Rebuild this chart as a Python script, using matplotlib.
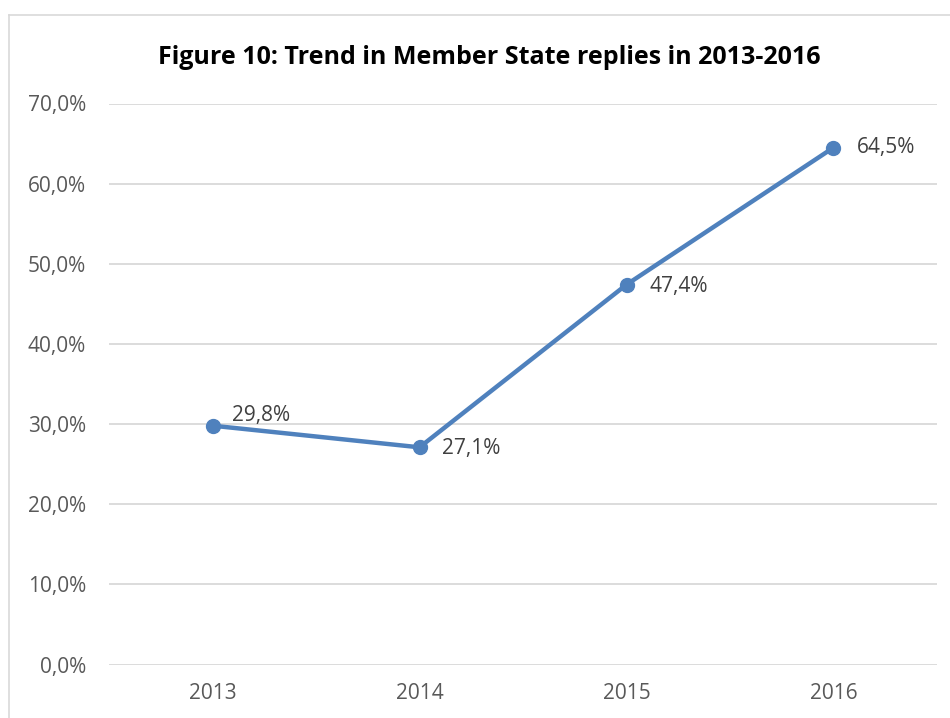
import matplotlib
matplotlib.use("Agg")
import matplotlib.pyplot as plt
from matplotlib.lines import Line2D

years = ["2013", "2014", "2015", "2016"]
values = [29.8, 27.1, 47.4, 64.5]
labels = ["29,8%", "27,1%", "47,4%", "64,5%"]
label_offsets = [(14, 7), (16.5, -1), (16.5, -1), (16.5, 0)]
yticks = [0, 10, 20, 30, 40, 50, 60, 70]
ytick_labels = ["0,0%", "10,0%", "20,0%", "30,0%", "40,0%", "50,0%", "60,0%", "70,0%"]
title = "Figure 10: Trend in Member State replies in 2013-2016"

plt.rcParams['font.family'] = ['Open Sans', 'DejaVu Sans']

fig = plt.figure(figsize=(9.5, 7.18), dpi=100)
ax = fig.add_axes([109/950, 1-664.5/718, (937-109)/950, (664.5-103.5)/718])

x = list(range(len(years)))
ax.plot(x, values, color="#4F81BD", lw=3.2, marker="o", ms=10, solid_capstyle="round", zorder=3)
for xi, v, lab, off in zip(x, values, labels, label_offsets):
    ax.annotate(lab, (xi, v), xytext=off, textcoords="offset points",
                ha="left", va="center", fontsize=15, color="#404040")

ax.set_xlim(-0.5, len(years) - 0.5)
ax.set_ylim(0, 70)
ax.set_yticks(yticks)
ax.set_yticklabels(ytick_labels)
ax.set_xticks(x)
ax.set_xticklabels(years)
ax.tick_params(axis="both", length=0, labelsize=15, labelcolor="#595959")
ax.tick_params(axis="y", pad=16.5)
ax.tick_params(axis="x", pad=13)
ax.grid(axis="y", color="#D9D9D9", lw=1.3)
ax.set_axisbelow(True)
for s in ax.spines.values():
    s.set_visible(False)

fig.text(489/950, 1-57/718, title, ha="center", va="center", fontsize=18, fontweight="bold", color="black")

fig.add_artist(Line2D([9/950, 9/950], [0, 1-15/718], color="#D9D9D9", lw=1.2, transform=fig.transFigure))
fig.add_artist(Line2D([9/950, 1], [1-15/718, 1-15/718], color="#D9D9D9", lw=1.2, transform=fig.transFigure))

fig.savefig("out.png", dpi=100)
